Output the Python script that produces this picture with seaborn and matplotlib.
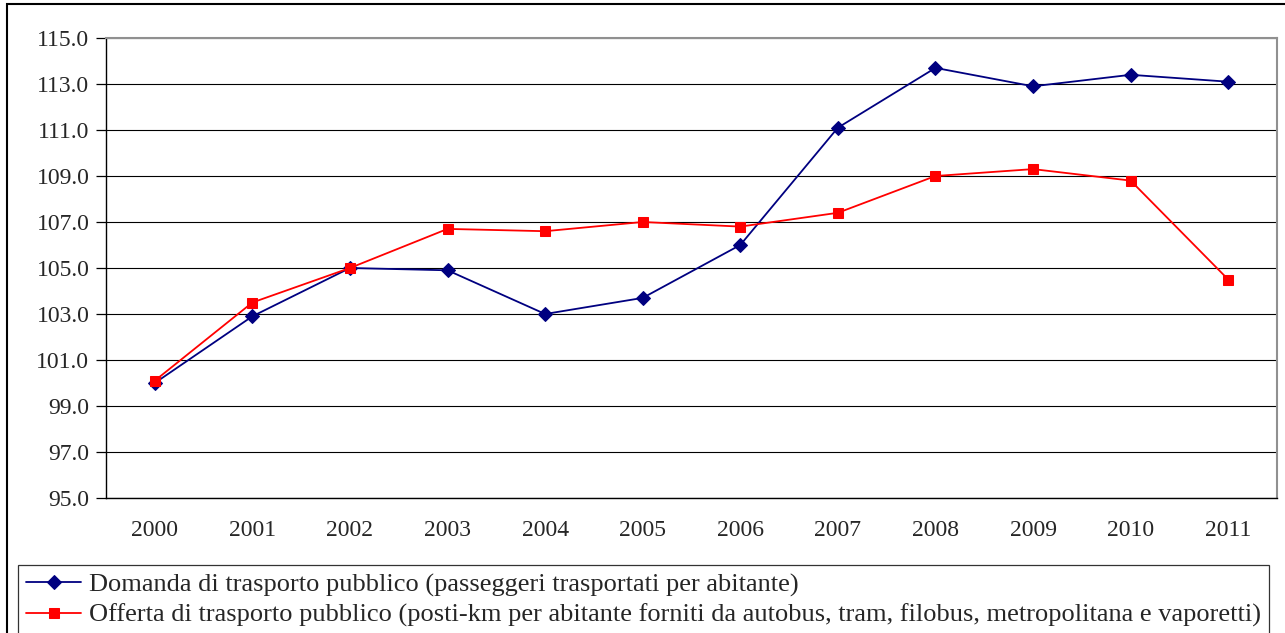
import matplotlib
matplotlib.use("Agg")
import matplotlib.pyplot as plt
from matplotlib.patches import Rectangle
from matplotlib.ticker import FixedLocator
import pandas as pd
import seaborn as sns

years = ["2000", "2001", "2002", "2003", "2004", "2005",
         "2006", "2007", "2008", "2009", "2010", "2011"]
domanda = [100.0, 102.9, 105.0, 104.9, 103.0, 103.7,
           106.0, 111.1, 113.7, 112.9, 113.4, 113.1]
offerta = [100.1, 103.5, 105.0, 106.7, 106.6, 107.0,
           106.8, 107.4, 109.0, 109.3, 108.8, 104.5]
label_dom = "Domanda di trasporto pubblico (passeggeri trasportati per abitante)"
label_off = ("Offerta di trasporto pubblico (posti-km per abitante forniti da autobus, "
             "tram, filobus, metropolitana e vaporetti)")
y_ticks = [95, 97, 99, 101, 103, 105, 107, 109, 111, 113, 115]

sns.set_style("white")
plt.rcParams["font.family"] = ["Liberation Serif", "DejaVu Serif"]

df = pd.DataFrame({"anno": years, "dom": domanda, "off": offerta})

fig = plt.figure(figsize=(12.85, 6.33), dpi=100)
ax = fig.add_axes([106 / 1285, 1 - 498 / 633, (1277 - 106) / 1285, (498 - 38) / 633])

sns.lineplot(data=df, x="anno", y="dom", ax=ax, color="#000080", marker="D",
             markersize=7.5, markeredgecolor="#000080", linewidth=1.3, label=label_dom)
sns.lineplot(data=df, x="anno", y="off", ax=ax, color="#ff0000", marker="s",
             markersize=7.5, markeredgecolor="#ff0000", linewidth=1.3, label=label_off)

ax.set_xlim(-0.5, len(years) - 0.5)
ax.set_ylim(95, 115)
ax.set_yticks(y_ticks)
ax.set_yticklabels([f"{v:.1f}" for v in y_ticks])
ax.yaxis.grid(True, color="#000000", linewidth=0.8)
ax.set_axisbelow(True)
ax.set_xlabel("")
ax.set_ylabel("")

ax.set_xticks(range(len(years)))
ax.set_xticklabels(years)
ax.xaxis.set_minor_locator(FixedLocator([i - 0.5 for i in range(len(years) + 1)]))
ax.tick_params(axis="x", which="major", length=0, pad=16, labelsize=17)
ax.tick_params(axis="x", which="minor", length=7, width=0.9, color="black", direction="out")
ax.tick_params(axis="y", length=7, width=0.9, color="black", direction="out",
               pad=5, labelsize=17, left=True)

for side in ["left", "bottom"]:
    ax.spines[side].set_color("black")
    ax.spines[side].set_linewidth(1.0)
for side in ["top", "right"]:
    ax.spines[side].set_visible(True)
    ax.spines[side].set_color("#909090")
    ax.spines[side].set_linewidth(1.5)

ax.get_legend().remove()
handles, labels = ax.get_legend_handles_labels()
leg = fig.legend(handles, labels, loc="upper left",
                 bbox_to_anchor=(18 / 1285, 1 - 565 / 633),
                 frameon=True, fancybox=False, edgecolor="black",
                 fontsize=19, handlelength=2.1, handletextpad=0.3,
                 borderpad=0.3, labelspacing=0.25, borderaxespad=0)
leg.get_frame().set_linewidth(0.9)

# outer chart border
fig.patches.append(Rectangle((7 / 1285, -0.05), 1.1, 1 - 4 / 633 + 0.05,
                             transform=fig.transFigure, fill=False,
                             edgecolor="black", linewidth=1.5))

fig.savefig("out.png", dpi=100)
